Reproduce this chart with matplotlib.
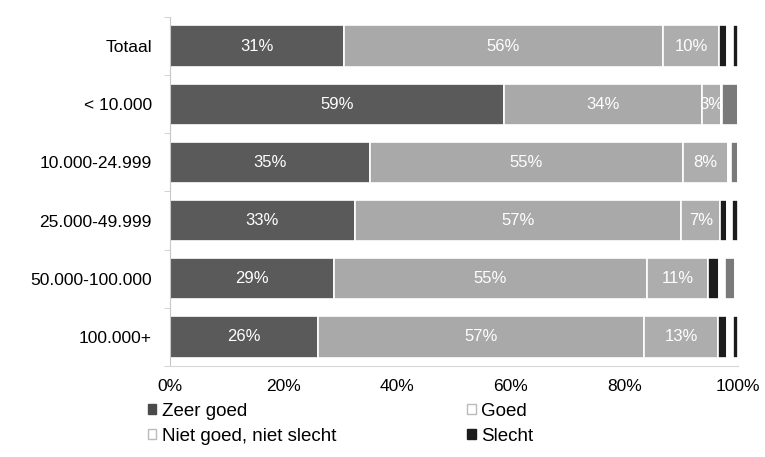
import matplotlib.pyplot as plt
from matplotlib.patches import Patch
import numpy as np

plt.rcParams['font.family'] = ['Liberation Sans', 'DejaVu Sans']

# data (percent)
categories = ['Totaal', '< 10.000', '10.000-24.999', '25.000-49.999', '50.000-100.000', '100.000+']
zeer_goed = [30.6, 58.8, 35.2, 32.6, 28.9, 26.1]
goed = [56.2, 34.9, 55.1, 57.4, 55.0, 57.4]
niet_goed_niet_slecht = [9.9, 3.2, 7.9, 6.8, 10.8, 13.0]
slecht = [1.4, 0.0, 0.0, 1.3, 1.9, 1.6]
zeer_slecht = [0.9, 0.3, 0.5, 0.8, 1.0, 1.0]
weet_niet = [0.0, 2.8, 1.3, 0.0, 1.9, 0.0]
geen_antwoord = [0.9, 0.0, 0.0, 1.1, 0.0, 0.8]

labels_zg = ['31%', '59%', '35%', '33%', '29%', '26%']
labels_g = ['56%', '34%', '55%', '57%', '55%', '57%']
labels_n = ['10%', '3%', '8%', '7%', '11%', '13%']

series = [
    ('Zeer goed', zeer_goed, '#5a5a5a', labels_zg),
    ('Goed', goed, '#a9a9a9', labels_g),
    ('Niet goed, niet slecht', niet_goed_niet_slecht, '#adadad', labels_n),
    ('Slecht', slecht, '#1c1c1c', None),
    ('Zeer slecht', zeer_slecht, '#ffffff', None),
    ('Weet niet', weet_niet, '#7a7a7a', None),
    ('Geen antwoord', geen_antwoord, '#1c1c1c', None),
]

fig = plt.figure(figsize=(7.65, 4.57), dpi=100)
ax = fig.add_axes([0.222, 0.199, 0.743, 0.764])

y = np.arange(len(categories))
left = np.zeros(len(categories))
for name, vals, col, labs in series:
    ax.barh(y, vals, left=left, height=0.71, color=col,
            edgecolor='white', linewidth=1.2)
    if labs is not None:
        for i, lab in enumerate(labs):
            ax.text(left[i] + vals[i] / 2, y[i], lab, ha='center', va='center',
                    color='white', fontsize=12)
    left = left + np.array(vals)

ax.set_xlim(0, 100)
ax.set_ylim(len(categories) - 0.5, -0.5)
ax.set_yticks(y)
ax.set_yticklabels(categories, fontsize=12.5)
ax.set_yticks(np.arange(len(categories) + 1) - 0.5, minor=True)
ax.set_xticks([0, 20, 40, 60, 80, 100])
ax.set_xticklabels(['0%', '20%', '40%', '60%', '80%', '100%'], fontsize=12.5)
ax.tick_params(axis='y', which='major', length=0, pad=13)
ax.tick_params(axis='y', which='minor', length=4, color='#cccccc')
ax.tick_params(axis='x', length=0, pad=9)
for s in ['top', 'right']:
    ax.spines[s].set_visible(False)
ax.spines['left'].set_color('#c8c8c8')
ax.spines['bottom'].set_color('#d8d8d8')

handles = [Patch(color='#4a4a4a'), Patch(facecolor='white', edgecolor='#bbbbbb'),
           Patch(facecolor='white', edgecolor='#bbbbbb'), Patch(color='#1c1c1c')]
names = ['Zeer goed', 'Niet goed, niet slecht', 'Goed', 'Slecht']
fig.legend(handles, names, loc='upper left', bbox_to_anchor=(0.193, 0.118), ncol=2,
           frameon=False, fontsize=13.5, handlelength=0.45, handleheight=0.45,
           handletextpad=0.3, columnspacing=7.0, labelspacing=0.42,
           borderaxespad=0, borderpad=0)

fig.savefig('out.png', dpi=100)
